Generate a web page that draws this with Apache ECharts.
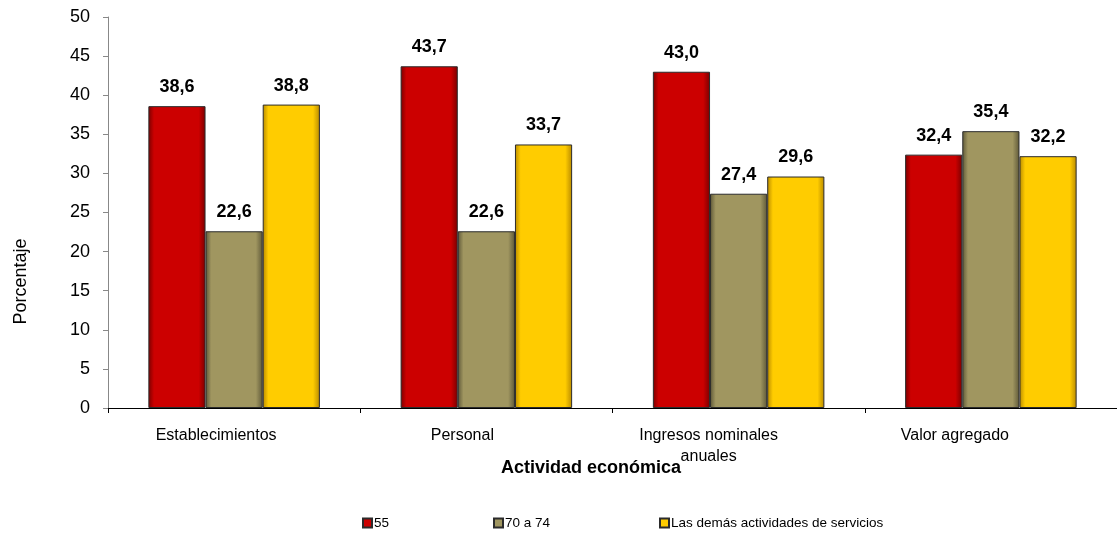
<!DOCTYPE html>
<html>
<head>
<meta charset="utf-8">
<script src="https://cdn.jsdelivr.net/npm/echarts@6/dist/echarts.min.js"></script>
<style>
  html, body { margin: 0; padding: 0; background: #fff; }
  #chart { width: 1117px; height: 537px; }
</style>
</head>
<body>
<div id="chart"></div>
<script>
const categories = ['Establecimientos', 'Personal', 'Ingresos nominales\nanuales', 'Valor agregado'];
const seriesNames = ['55', '70 a 74', 'Las demás actividades de servicios'];
const values55 = [38.6, 43.7, 43.0, 32.4];
const values70a74 = [22.6, 22.6, 27.4, 35.4];
const valuesDemas = [38.8, 33.7, 29.6, 32.2];
const yTicks = { min: 0, max: 50, interval: 5 };

// bevel-ish look: darker at the edges, flat colour in the middle
function bevel(main, dark) {
  return new echarts.graphic.LinearGradient(0, 0, 1, 0, [
    { offset: 0, color: dark },
    { offset: 0.1, color: main },
    { offset: 0.88, color: main },
    { offset: 1, color: dark }
  ]);
}

const colors = [
  { main: '#CC0000', dark: '#7a0000' },
  { main: '#A09660', dark: '#5e5838' },
  { main: '#FFCC00', dark: '#b88a00' }
];

const fmt = (p) => p.value.toFixed(1).replace('.', ',');

function makeSeries(name, data, c) {
  return {
    name: name,
    type: 'bar',
    data: data,
    barGap: 0,
    barCategoryGap: '32%',
    itemStyle: { color: bevel(c.main, c.dark), borderColor: '#2b2b2b', borderWidth: 1 },
    label: {
      show: true,
      position: 'top',
      distance: 10,
      formatter: fmt,
      color: '#000',
      fontWeight: 'bold',
      fontSize: 18
    }
  };
}

const legendPos = [357, 488, 654];

const chart = echarts.init(document.getElementById('chart'));
chart.setOption({
  animation: false,
  textStyle: { fontFamily: 'Liberation Sans, Arial, sans-serif' },
  color: colors.map(c => c.main),
  title: {
    text: 'Actividad económica',
    left: 586,
    top: 454,
    textAlign: 'center',
    textStyle: { fontSize: 18, fontWeight: 'bold', color: '#000' }
  },
  legend: seriesNames.map((n, i) => ({
    data: [n],
    left: legendPos[i],
    top: 511,
    icon: 'rect',
    itemWidth: 9,
    itemHeight: 9,
    itemGap: 2,
    textStyle: { fontSize: 13.5, color: '#000', padding: [0, 0, 0, -3] }
  })),
  grid: [
    { left: 108, right: 0, top: 17, bottom: 129 },
    // labels of the category axis sit a bit left of the bar groups in the original
    { left: 93, right: 39, top: 17, bottom: 129 }
  ],
  xAxis: [
    {
      type: 'category',
      data: categories,
      axisLine: { lineStyle: { color: '#000', width: 1 } },
      axisTick: { show: true, length: 5, lineStyle: { color: '#000' } },
      axisLabel: { show: false }
    },
    {
      type: 'category',
      gridIndex: 1,
      data: categories,
      axisLine: { show: false },
      axisTick: { show: false },
      axisLabel: { fontSize: 16, color: '#000', margin: 17, lineHeight: 21, interval: 0 }
    }
  ],
  yAxis: [
    {
      type: 'value',
      min: yTicks.min,
      max: yTicks.max,
      interval: yTicks.interval,
      name: 'Porcentaje',
      nameLocation: 'middle',
      nameGap: 78,
      nameTextStyle: { fontSize: 18, color: '#000', padding: [0, 138, 0, 0] },
      axisLine: { show: true, lineStyle: { color: '#888' } },
      axisTick: { show: true, length: 5, lineStyle: { color: '#888' } },
      axisLabel: { fontSize: 18, color: '#000', margin: 18 },
      splitLine: { show: false }
    },
    {
      type: 'value',
      gridIndex: 1,
      min: yTicks.min,
      max: yTicks.max,
      show: false
    }
  ],
  series: [
    makeSeries(seriesNames[0], values55, colors[0]),
    makeSeries(seriesNames[1], values70a74, colors[1]),
    makeSeries(seriesNames[2], valuesDemas, colors[2])
  ]
});
</script>
</body>
</html>
